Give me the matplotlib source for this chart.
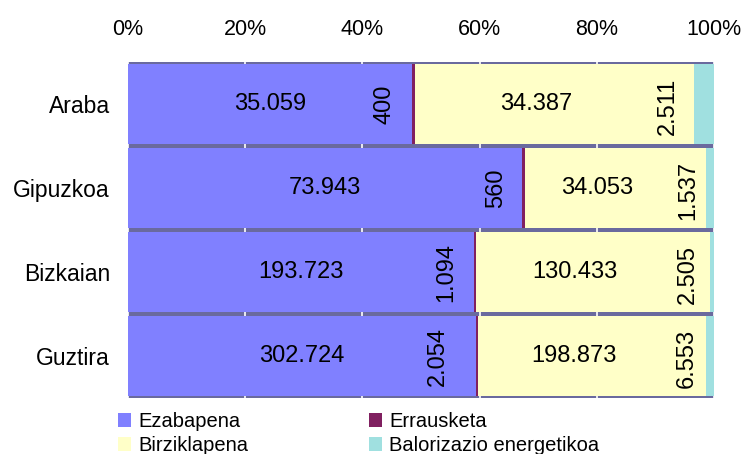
import matplotlib
matplotlib.use("Agg")
import matplotlib.pyplot as plt
import numpy as np
from matplotlib.patches import Patch

plt.rcParams['font.family'] = ['Liberation Sans', 'DejaVu Sans']

categories = ["Araba", "Gipuzkoa", "Bizkaian", "Guztira"]
series_names = ["Ezabapena", "Errausketa", "Birziklapena", "Balorizazio energetikoa"]
ezabapena = [35059, 73943, 193723, 302724]
errausketa = [400, 560, 1094, 2054]
birziklapena = [34387, 34053, 130433, 198873]
balorizazio = [2511, 1537, 2505, 6553]
tick_labels = ["0%", "20%", "40%", "60%", "80%", "100%"]

colors = ["#8080FF", "#802060", "#FFFFC8", "#A0E0E0"]

values = np.array([ezabapena, errausketa, birziklapena, balorizazio], dtype=float)
totals = values.sum(axis=0)
pct = values / totals * 100

fig = plt.figure(figsize=(7.48, 4.54), dpi=100)
ax = fig.add_axes([128/748, 1-398/454, (714-128)/748, (398-62)/454])
ax.set_facecolor("#6A6A9E")

y = np.arange(len(categories))
left = np.zeros(len(categories))
for i in range(4):
    ax.barh(y, pct[i], left=left, height=0.964, color=colors[i], edgecolor='none', zorder=2)
    left = left + pct[i]

ax.set_xlim(0, 100)
ax.set_ylim(3.5, -0.5)
ax.set_xticks([0, 20, 40, 60, 80, 100])
ax.set_xticklabels(tick_labels)
ax.xaxis.tick_top()
ax.set_yticks(y)
ax.set_yticklabels(categories)
ax.tick_params(axis='x', length=0, pad=16, labelsize=15.5)
ax.tick_params(axis='y', length=0, pad=13, labelsize=16.5)
for s in ax.spines.values():
    s.set_visible(False)
ax.set_axisbelow(True)
ax.grid(axis='x', color='white', linewidth=1.2)

def fmt(v):
    return f"{int(v):,}".replace(",", ".")

px = 72 / 100  # points per pixel
err_offsets_px = [-27, -25, -28, -38]
bal_offsets_px = [-26, -18, -22, -20]
LBL = 17

starts = np.cumsum(pct, axis=0) - pct
for j in range(len(categories)):
    ax.annotate(fmt(values[0, j]), (starts[0, j] + pct[0, j] / 2, y[j]),
                ha='center', va='center', fontsize=LBL, zorder=3)
    ax.annotate(fmt(values[1, j]), (starts[1, j], y[j]),
                xytext=(err_offsets_px[j] * px, 0), textcoords='offset points',
                ha='center', va='center', rotation=90, fontsize=LBL, zorder=3)
    ax.annotate(fmt(values[2, j]), (starts[2, j] + pct[2, j] / 2, y[j]),
                xytext=(-18 * px, 0), textcoords='offset points',
                ha='center', va='center', fontsize=LBL, zorder=3)
    ax.annotate(fmt(values[3, j]), (starts[3, j], y[j]),
                xytext=(bal_offsets_px[j] * px, -2 * px), textcoords='offset points',
                ha='center', va='center', rotation=90, fontsize=LBL, zorder=3)

handles = [Patch(facecolor=colors[0]), Patch(facecolor=colors[2]),
           Patch(facecolor=colors[1]), Patch(facecolor=colors[3])]
labels = [series_names[0], series_names[2], series_names[1], series_names[3]]
fig.legend(handles, labels, ncol=2, loc='upper left',
           bbox_to_anchor=(118/748, 1-412/454), frameon=False,
           fontsize=14.5, handlelength=0.65, handleheight=0.65,
           handletextpad=0.35, labelspacing=0.25, columnspacing=6.0,
           borderpad=0, borderaxespad=0)

fig.savefig("out.png", dpi=100)
